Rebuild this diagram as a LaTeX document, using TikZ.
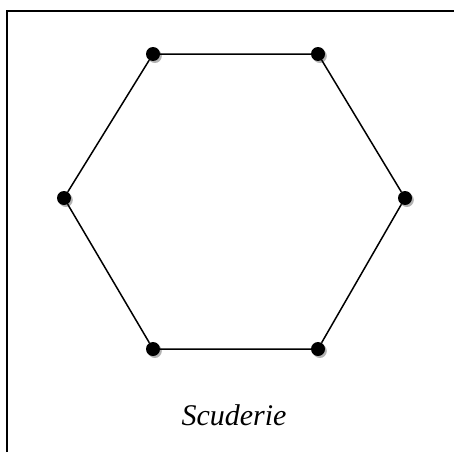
\documentclass[tikz,border=0pt]{standalone}
\usepackage{fontspec}
\newfontfamily\labelfont{Liberation Serif}
\usepackage{tikz}
\usetikzlibrary{shadows}

\begin{document}
\begin{tikzpicture}[x=1pt, y=-1pt,
  vertex/.style={circle, fill=black, inner sep=0pt, minimum size=14pt,
    drop shadow={shadow xshift=1.8pt, shadow yshift=-2pt, fill=black!40, opacity=0.75}},
  edge/.style={line width=1.5pt}]
\useasboundingbox (0,0) rectangle (454,452);
\draw[line width=1.2pt] (7,452) -- (7,11) -- (454,11);
\node[vertex] (topl) at (153,54) {};
\node[vertex] (topr) at (318,54) {};
\node[vertex] (right) at (405,198) {};
\node[vertex] (botr) at (318,349) {};
\node[vertex] (botl) at (153,349) {};
\node[vertex] (left) at (64,198) {};
\draw[edge] (topl) -- (topr) -- (right) -- (botr) -- (botl) -- (left) -- (topl);
\node[font=\labelfont\fontsize{30}{35}\selectfont\itshape] (name) at (234,415) {Scuderie};
\end{tikzpicture}
\end{document}
